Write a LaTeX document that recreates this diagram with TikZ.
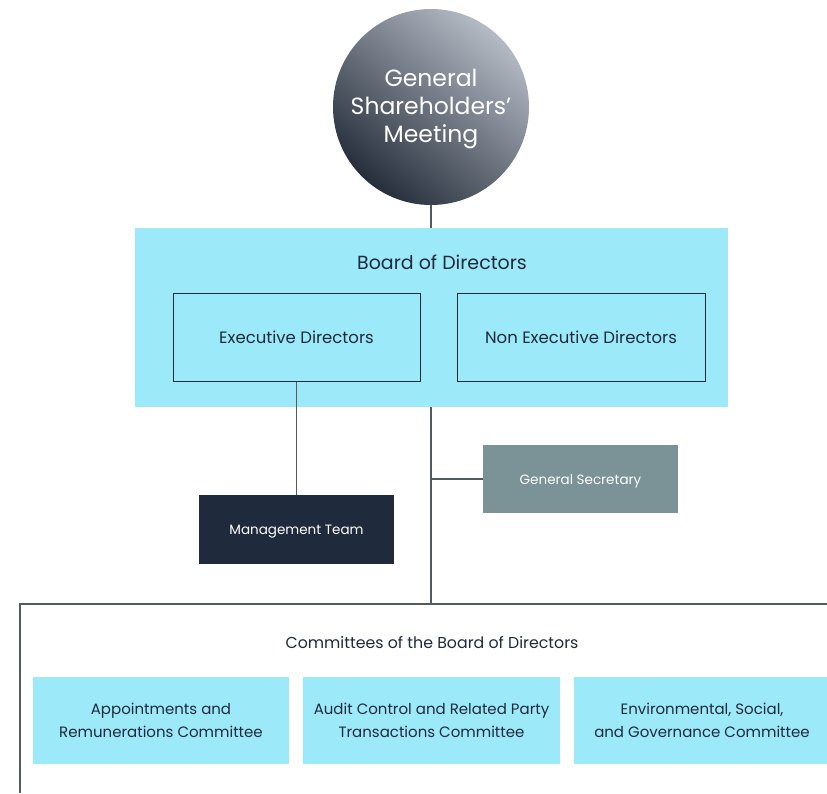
\documentclass[tikz,border=0pt]{standalone}
\usepackage{fontspec}
\setmainfont{Poppins}
\usetikzlibrary{shadings}
\definecolor{cyanbox}{HTML}{9CE9FA}
\definecolor{navy}{HTML}{1F2A3C}
\definecolor{slate}{HTML}{7B9297}
\definecolor{linegray}{HTML}{555A60}
\definecolor{circtop}{HTML}{B4BBC5}
\definecolor{circbot}{HTML}{262E3B}
\tikzset{
  fillbox/.style={rectangle, inner sep=0pt, draw=none, align=center},
  outlinebox/.style={rectangle, inner sep=0pt, draw=navy, line width=1pt, align=center, text=navy},
  conn/.style={draw=linegray, line width=1.2pt},
}
\begin{document}
\begin{tikzpicture}[x=1pt,y=-1pt]
\useasboundingbox (0,0) rectangle (827,793);
\fill[white] (0,0) rectangle (827,793);
% circle
\node[circle, minimum size=196pt, inner sep=0pt, shading=axis, top color=circtop, bottom color=circbot, shading angle=-40] (gsm) at (431,107) {};
\node[text=white, align=center, font=\fontsize{23.5}{28}\selectfont] (gsmlbl) at (431,109) {General\\Shareholders’\\Meeting};
% board
\node[fillbox, fill=cyanbox, minimum width=593pt, minimum height=179pt] (board) at (431.5,317.5) {};
\node[text=navy, font=\fontsize{19}{22}\selectfont] (boardlbl) at (442,262) {Board of Directors};
\node[outlinebox, minimum width=247pt, minimum height=88pt, font=\fontsize{16.5}{19}\selectfont] (exec) at (296.5,337) {Executive Directors};
\node[outlinebox, minimum width=248pt, minimum height=88pt, font=\fontsize{16.5}{19}\selectfont] (nonexec) at (581,337) {Non Executive Directors};
% management
\node[fillbox, fill=navy, minimum width=195pt, minimum height=69pt] (mgmt) at (296.5,529.5) {};
\node[text=white, font=\fontsize{13.5}{16}\selectfont] (mgmtlbl) at (296.5,532) {Management Team};
% secretary
\node[fillbox, fill=slate, minimum width=195pt, minimum height=68pt] (sec) at (580.5,479) {};
\node[text=white, font=\fontsize{13.5}{16}\selectfont] (seclbl) at (580.5,481) {General Secretary};
% committees frame
\coordinate (ftop) at (431,604);
\coordinate (fleft) at (20,604);
\coordinate (fright) at (827,604);
\coordinate (fbot) at (20,793);
\coordinate (junc) at (431,479);
\draw[conn] (fbot) -- (fleft) -- (fright);
\node[text=navy, font=\fontsize{15.8}{19}\selectfont] (comlbl) at (432,643) {Committees of the Board of Directors};
\node[fillbox, fill=cyanbox, text=navy, minimum width=256pt, minimum height=87pt, font=\fontsize{15}{23}\selectfont] (c1) at (161,720) {Appointments and\\Remunerations Committee};
\node[fillbox, fill=cyanbox, text=navy, minimum width=257pt, minimum height=87pt, font=\fontsize{15}{23}\selectfont] (c2) at (431.5,720) {Audit Control and Related Party\\Transactions Committee};
\node[fillbox, fill=cyanbox, text=navy, minimum width=256pt, minimum height=87pt, font=\fontsize{15}{23}\selectfont] (c3) at (702,720) {Environmental, Social,\\and Governance Committee};
% connectors
\draw[conn] (gsm.south) -- (board.north -| gsm.south);
\draw[conn] (exec.south) -- (mgmt.north);
\draw[conn] (board.south -| ftop) -- (ftop);
\draw[conn] (junc) -- (sec.west);
\end{tikzpicture}
\end{document}
